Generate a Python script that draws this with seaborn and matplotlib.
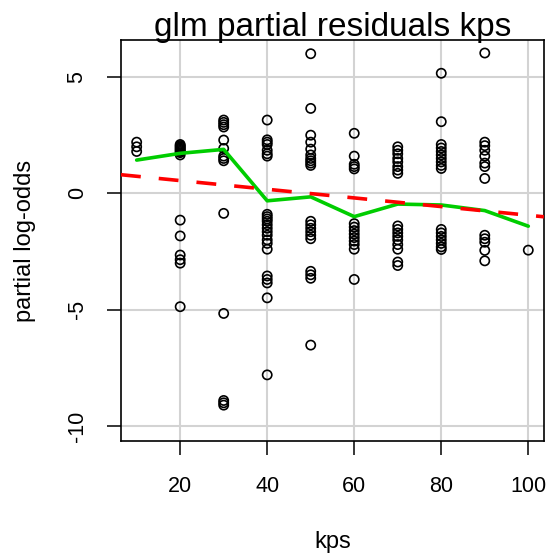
import numpy as np
import pandas as pd
import matplotlib
matplotlib.use("Agg")
import matplotlib.pyplot as plt
import seaborn as sns

# partial residuals, one list per kps level
kps_levels = [10, 20, 30, 40, 50, 60, 70, 80, 90, 100]
res_10 = [2.2, 2.0, 1.8]
res_20 = [2.1, 2.05, 2.0, 1.95, 1.9, 1.85, 1.8, 1.75, 1.65,
          -1.15, -1.83, -2.65, -2.85, -3.0, -4.87]
res_30 = [3.15, 3.05, 2.95, 2.85, 2.29, 1.93, 1.6, 1.5, 1.4,
          -0.86, -5.16, -8.9, -9.0, -9.1]
res_40 = [3.15, 2.3, 2.2, 2.1, 1.85, 1.7, 1.6,
          -0.9, -1.0, -1.1, -1.2, -1.35, -1.5, -1.65, -1.8, -2.0, -2.15, -2.4,
          -3.55, -3.7, -3.85, -4.49, -7.8]
res_50 = [6.0, 3.65, 2.5, 2.2, 1.9, 1.65, 1.5, 1.4, 1.3, 1.2,
          -1.2, -1.35, -1.5, -1.65, -1.8, -1.95, -3.35, -3.5, -3.65, -6.52]
res_60 = [2.58, 1.6, 1.25, 1.15, 1.05,
          -1.3, -1.45, -1.6, -1.75, -1.9, -2.05, -2.2, -2.4, -3.7]
res_70 = [2.0, 1.85, 1.7, 1.5, 1.35, 1.15, 1.0, 0.86,
          -1.4, -1.55, -1.7, -1.85, -2.0, -2.2, -2.4, -2.95, -3.1]
res_80 = [5.16, 3.08, 2.1, 1.95, 1.8, 1.65, 1.5, 1.35, 1.2, 1.07,
          -1.55, -1.7, -1.85, -2.0, -2.15, -2.3, -2.41]
res_90 = [6.03, 2.2, 2.05, 1.85, 1.6, 1.3, 1.15, 0.64,
          -1.8, -1.95, -2.1, -2.45, -2.9]
res_100 = [-2.44]

# smoother (green) at each kps level
smooth_y = [1.43, 1.72, 1.89, -0.32, -0.15, -1.0, -0.46, -0.5, -0.74, -1.41]

# linear fit (red dashed)
fit_intercept = 0.92
fit_slope = -0.0186

all_res = [res_10, res_20, res_30, res_40, res_50, res_60, res_70, res_80, res_90, res_100]
pts = pd.DataFrame({
    "kps": np.concatenate([[k] * len(r) for k, r in zip(kps_levels, all_res)]),
    "resid": np.concatenate(all_res),
})
smooth = pd.DataFrame({"kps": kps_levels, "resid": smooth_y})

sns.set_style("white")
plt.rcParams["font.family"] = ["Liberation Sans", "DejaVu Sans"]
plt.rcParams["axes.unicode_minus"] = False
plt.rcParams["text.color"] = "black"
plt.rcParams["axes.labelcolor"] = "black"
plt.rcParams["xtick.color"] = "black"
plt.rcParams["ytick.color"] = "black"

fig = plt.figure(figsize=(5.5, 5.57), dpi=100)
ax = fig.add_axes([0.22, 0.2083, 0.769, 0.7199])

ax.set_xlim(6.4, 103.6)
ax.set_ylim(-10.64, 6.59)
ax.set_xticks([20, 40, 60, 80, 100])
ax.set_yticks([5, 0, -5, -10])
ax.grid(True, color="#d3d3d3", linewidth=1.5)
ax.set_axisbelow(True)

sns.scatterplot(data=pts, x="kps", y="resid", ax=ax, marker="o",
                facecolor="none", edgecolor="black", linewidth=1.2, s=44,
                zorder=3)
sns.lineplot(data=smooth, x="kps", y="resid", ax=ax, color="#00cd00",
             linewidth=2.6, zorder=4)
ax.axline((0, fit_intercept), slope=fit_slope, color="red", linewidth=2.6,
          dashes=(5.5, 5), zorder=5)

for sp in ax.spines.values():
    sp.set_visible(True)
    sp.set_color("black")
    sp.set_linewidth(1.2)

ax.tick_params(axis="both", direction="out", length=10, width=1.1,
               labelsize=15.5, bottom=True, left=True)
ax.tick_params(axis="x", pad=15)
ax.tick_params(axis="y", pad=14)
for lab in ax.get_yticklabels():
    lab.set_rotation(90)
    lab.set_va("center")

ax.set_xlabel("kps", fontsize=17)
ax.set_ylabel("partial log-odds", fontsize=17)
ax.xaxis.set_label_coords(0.5, -0.225)
ax.yaxis.set_label_coords(-0.2, 0.5)
ax.set_title("glm partial residuals kps", fontsize=24, pad=3)

fig.savefig("out.png", dpi=100)
